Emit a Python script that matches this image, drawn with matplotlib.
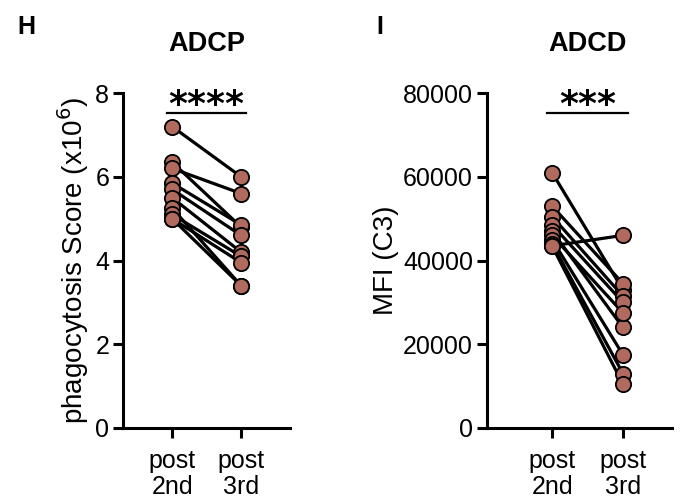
import matplotlib
matplotlib.use("Agg")
from matplotlib import pyplot as plt

plt.rcParams['font.family'] = ['Liberation Sans', 'DejaVu Sans']

groups = ['post\n2nd', 'post\n3rd']

# ADCP, phagocytosis score (x10^6), paired per donor
adcp_2nd = [7.2, 6.35, 6.2, 5.85, 5.7, 5.5, 5.25, 5.1, 5.0, 5.0]
adcp_3rd = [6.0, 4.8, 5.6, 4.85, 4.6, 4.2, 3.4, 4.1, 3.95, 3.4]

# ADCD, MFI (C3), paired per donor
adcd_2nd = [61000, 53000, 50500, 48500, 47000, 46000, 45000, 44000, 43500, 43500]
adcd_3rd = [33000, 34500, 31500, 30000, 24000, 27500, 17500, 13000, 10500, 46000]

dot_color = '#B06A5E'

fig = plt.figure(figsize=(6.8, 4.99), dpi=100)
ax1 = fig.add_axes([0.181, 0.1423, 0.2456, 0.6713])
ax2 = fig.add_axes([0.716, 0.1423, 0.272, 0.6713])


def paired_plot(ax, pre, post, ylim, yticks, ylabel, title, stars, star_y, xlim):
    for a, b in zip(pre, post):
        ax.plot([0, 1], [a, b], color='black', lw=2.3, zorder=2)
    ax.plot([0] * len(pre), pre, 'o', ms=11, mfc=dot_color, mec='black', mew=1.3, zorder=3)
    ax.plot([1] * len(post), post, 'o', ms=11, mfc=dot_color, mec='black', mew=1.3, zorder=3)
    ax.set_xlim(*xlim)
    ax.set_ylim(*ylim)
    ax.set_yticks(yticks)
    ax.set_xticks([0, 1])
    ax.set_xticklabels(groups, fontsize=18, linespacing=1.1)
    ax.tick_params(axis='both', labelsize=18, width=2.2, length=7)
    ax.tick_params(axis='y', pad=3)
    ax.tick_params(axis='x', pad=8)
    for s in ['top', 'right']:
        ax.spines[s].set_visible(False)
    for s in ['left', 'bottom']:
        ax.spines[s].set_linewidth(2.2)
    ax.spines['left'].set_bounds(ylim[0], ylim[1])
    ax.set_ylabel(ylabel, fontsize=20, labelpad=3)
    ax.text(0.5, 1.145, title, transform=ax.get_xaxis_transform(), ha='center',
            va='center', fontsize=19.5, fontweight='bold')
    ax.plot([-0.07, 1.07], [star_y, star_y], color='black', lw=1.6, clip_on=False)
    ax.annotate(stars, xy=(0.5, star_y), xytext=(0, -6.5), textcoords='offset points',
                ha='center', va='bottom', fontsize=26, fontweight='bold',
                family='DejaVu Sans', annotation_clip=False)


paired_plot(ax1, adcp_2nd, adcp_3rd, (0, 8), [0, 2, 4, 6, 8],
            r'phagocytosis Score (x10$^6$)', 'ADCP', '****', 7.52, (-0.71, 1.71))
paired_plot(ax2, adcd_2nd, adcd_3rd, (0, 80000), [0, 20000, 40000, 60000, 80000],
            'MFI (C3)', 'ADCD', '***', 75200, (-0.92, 1.69))

fig.text(0.025, 0.945, 'H', fontsize=18, fontweight='bold', va='center')
fig.text(0.553, 0.945, 'I', fontsize=18, fontweight='bold', va='center')

fig.savefig('out.png', dpi=100)
